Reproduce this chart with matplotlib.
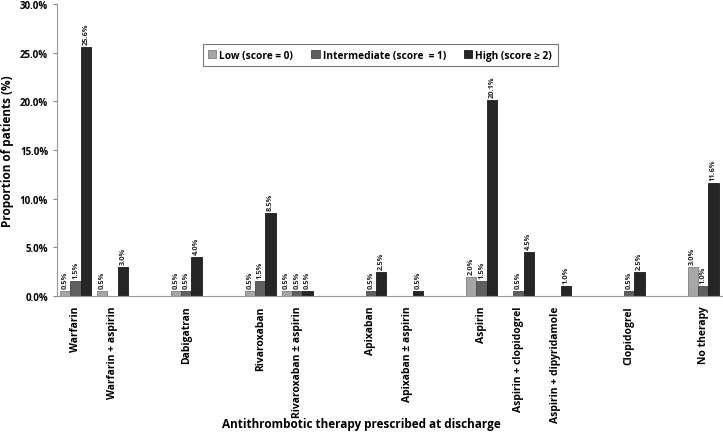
import numpy as np
import matplotlib
matplotlib.use("Agg")
import matplotlib.pyplot as plt
from matplotlib.ticker import PercentFormatter

plt.rcParams['font.family'] = ['Open Sans', 'DejaVu Sans']
plt.rcParams['font.weight'] = 'bold'

# categories (blank slots are spacers in the original chart)
categories = ['Warfarin', 'Warfarin + aspirin', '', 'Dabigatran', '',
              'Rivaroxaban', 'Rivaroxaban \u00b1 aspirin', '',
              'Apixaban', 'Apixaban \u00b1 aspirin', '',
              'Aspirin', 'Aspirin + clopidogrel', 'Aspirin + dipyridamole', '',
              'Clopidogrel', '', 'No therapy']

nan = np.nan
low = [0.5, 0.5, nan, 0.5, nan, 0.5, 0.5, nan, 0, 0, nan, 2.0, 0, 0, nan, 0, nan, 3.0]
intermediate = [1.5, 0, nan, 0.5, nan, 1.5, 0.5, nan, 0.5, 0, nan, 1.5, 0.5, 0, nan, 0.5, nan, 1.0]
high = [25.6, 3.0, nan, 4.0, nan, 8.5, 0.5, nan, 2.5, 0.5, nan, 20.1, 4.5, 1.0, nan, 2.5, nan, 11.6]

series = [('Low (score = 0)', low, '#a6a6a6', '#7f7f7f'),
          ('Intermediate (score  = 1)', intermediate, '#5f5f5f', '#4a4a4a'),
          ('High (score \u2265 2)', high, '#262626', '#1a1a1a')]

fig = plt.figure(figsize=(7.23, 4.39), dpi=100)
ax = fig.add_axes([0.079, 0.3235, 0.919, 0.665])

x = np.arange(len(categories))
w = 0.28
for i, (name, vals, fc, ec) in enumerate(series):
    vals = np.array(vals, dtype=float)
    pos = x + (i - 1) * w
    mask = vals > 0
    bars = ax.bar(pos[mask], vals[mask], w, color=fc, edgecolor=ec, linewidth=0.6, label=name)
    for b, v in zip(bars, vals[mask]):
        ax.text(b.get_x() + b.get_width() / 2, v + 0.3, f'{v:.1f}%', rotation=90,
                ha='center', va='bottom', fontsize=5.3, fontweight='bold', color='#222222')

ax.set_xlim(-0.5, len(categories) - 0.5)
ax.set_ylim(0, 30)
ax.set_yticks(np.arange(0, 31, 5))
ax.yaxis.set_major_formatter(PercentFormatter(decimals=1))
ax.set_xticks(x)
ax.set_xticklabels(categories, rotation=90, fontsize=7.5, fontweight='bold')
ax.tick_params(axis='y', labelsize=7, length=3, color='#888888')
ax.tick_params(axis='x', length=0, pad=7)
for s in ['top', 'right']:
    ax.spines[s].set_visible(False)
for s in ['left', 'bottom']:
    ax.spines[s].set_color('#999999')

ax.set_ylabel('Proportion of patients (%)', fontsize=8.5, fontweight='bold')
fig.text(0.5, 0.025, 'Antithrombotic therapy prescribed at discharge', ha='center',
         fontsize=8.5, fontweight='bold')

leg = ax.legend(loc='upper center', bbox_to_anchor=(0.486, 0.88), ncol=3, fontsize=7.3,
                frameon=True, fancybox=False, edgecolor='#555555', handlelength=0.8,
                handleheight=0.8, columnspacing=1.8, handletextpad=0.3, borderpad=0.55)
leg.get_frame().set_linewidth(0.8)

fig.savefig('out.png', dpi=100)
